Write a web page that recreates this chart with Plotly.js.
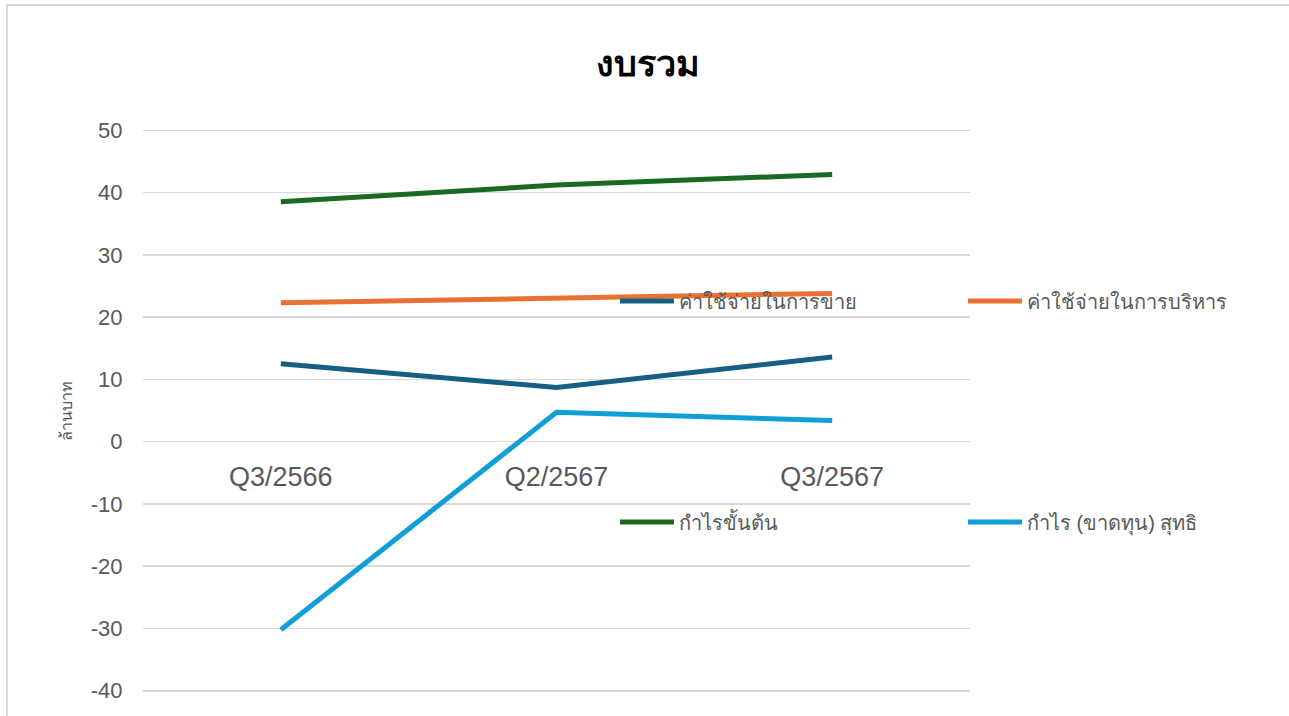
<!DOCTYPE html>
<html>
<head>
<meta charset="utf-8">
<script src="https://cdn.plot.ly/plotly-3.0.1.min.js"></script>
<style>
  html, body { margin: 0; padding: 0; background: #ffffff; }
  #chart { width: 1289px; height: 716px; position: absolute; left: 0; top: 0; }
  #frame { position: absolute; left: 6px; top: 4px; width: 1400px; height: 800px;
           border: 2px solid #d9d9d9; pointer-events: none; box-sizing: border-box; }
</style>
</head>
<body>
<div id="chart"></div>
<div id="frame"></div>
<script>
const categories = ["Q3/2566", "Q2/2567", "Q3/2567"];
const sellingExpense = [12.5, 8.7, 13.6];
const adminExpense = [22.3, 23.0, 23.8];
const grossProfit = [38.5, 41.2, 42.9];
const netProfit = [-30.2, 4.7, 3.4];
const seriesNames = ["ค่าใช้จ่ายในการขาย", "ค่าใช้จ่ายในการบริหาร", "กำไรขั้นต้น", "กำไร (ขาดทุน) สุทธิ"];
const yTicks = [-40, -30, -20, -10, 0, 10, 20, 30, 40, 50];

const fontFam = '"Liberation Sans", Arial, sans-serif';
const textGray = '#595959';

function mk(y, name, color, legend) {
  return {
    type: 'scatter', mode: 'lines', x: categories, y: y, name: name,
    line: {color: color, width: 5},
    legend: legend
  };
}

const data = [
  mk(grossProfit, seriesNames[2], '#196B24', 'legend3'),
  mk(netProfit, seriesNames[3], '#0F9ED5', 'legend4'),
  mk(sellingExpense, seriesNames[0], '#156082', 'legend'),
  mk(adminExpense, seriesNames[1], '#E97132', 'legend2')
];

const legendCommon = {
  orientation: 'h', xanchor: 'left', yanchor: 'middle', itemwidth: 54,
  font: {family: fontFam, size: 20, color: textGray},
  bgcolor: 'rgba(0,0,0,0)', borderwidth: 0
};
const colA = 0.5707, colB = 0.9915, rowA = 0.6945, rowB = 0.302;

const layout = {
  width: 1289, height: 716,
  margin: {l: 143, r: 319, t: 129, b: 24},
  paper_bgcolor: '#ffffff', plot_bgcolor: '#ffffff',
  font: {family: fontFam, color: textGray},
  title: {text: '<b>งบรวม</b>', x: 648 / 1289, xref: 'container', xanchor: 'center', y: 0.912, yanchor: 'middle',
          font: {family: fontFam, size: 36, color: '#000000'}},
  showlegend: true,
  legend: Object.assign({}, legendCommon, {x: colA, y: rowA}),
  legend2: Object.assign({}, legendCommon, {x: colB, y: rowA}),
  legend3: Object.assign({}, legendCommon, {x: colA, y: rowB}),
  legend4: Object.assign({}, legendCommon, {x: colB, y: rowB}),
  xaxis: {
    type: 'category', range: [-0.5, 2.5],
    anchor: 'free', position: 40.2 / 90.4,
    showgrid: false, zeroline: false, showline: false,
    ticks: 'outside', ticklen: 11, tickcolor: 'rgba(0,0,0,0)',
    tickfont: {family: fontFam, size: 27, color: textGray},
    fixedrange: true
  },
  yaxis: {
    range: [-40.2, 50.2], tickvals: yTicks, ticktext: yTicks.map(String),
    showgrid: true, gridcolor: '#d9d9d9', gridwidth: 1.5,
    zeroline: false, showline: false,
    ticks: 'outside', ticklen: 15, tickcolor: 'rgba(0,0,0,0)',
    tickfont: {family: fontFam, size: 22, color: textGray},
    automargin: true,
    title: {text: 'ล้านบาท', font: {family: fontFam, size: 16, color: textGray}, standoff: 14},
    fixedrange: true
  }
};

Plotly.newPlot('chart', data, layout, {displayModeBar: false, staticPlot: true});
</script>
</body>
</html>
